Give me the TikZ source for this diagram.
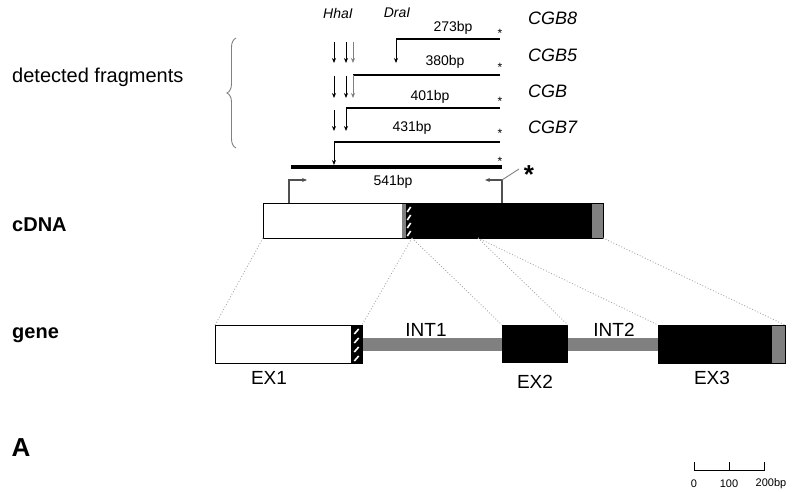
\documentclass[tikz,border=0pt]{standalone}
\usepackage{fontspec}
\setmainfont{Liberation Sans}
\usetikzlibrary{arrows.meta,decorations.pathreplacing}
\definecolor{dgray}{HTML}{808080}
\definecolor{lgray}{HTML}{A8A8A8}
\definecolor{pgray}{HTML}{505050}
\begin{document}
\begin{tikzpicture}[x=1pt,y=-1pt,
  fs/.style={font=\fontsize{#1}{#1}\selectfont, inner sep=0pt},
  itl/.style={font=\fontsize{#1}{#1}\selectfont\itshape, inner sep=0pt},
  bld/.style={font=\fontsize{#1}{#1}\selectfont\bfseries, inner sep=0pt},
  darr/.style={-{Stealth[length=5pt,width=4pt]}, line width=0.8pt},
  frag/.style={line width=2.8pt},
  parr/.style={pgray, line width=1.1pt, -{Stealth[length=5pt,width=4pt]}},
  guide/.style={lgray, dotted, line width=0.9pt},
  hatch/.style={white, line width=1.6pt}
]
\useasboundingbox (0,0) rectangle (793,492);

% ---------- fragments ----------
\node[itl=14] (hha) at (338,13) {HhaI};
\node[itl=14] (dra) at (397,13) {DraI};

\node[itl=18, anchor=west] (cgb8) at (528,18) {CGB8};
\node[itl=18, anchor=west] (cgb5) at (528,55) {CGB5};
\node[itl=18, anchor=west] (cgb) at (528,91) {CGB};
\node[itl=18, anchor=west] (cgb7) at (528,127) {CGB7};

% row 1
\draw[darr] (334,42) -- (334,63);
\draw[darr] (346,42) -- (346,63);
\draw[darr, dgray] (353,42) -- (353,63);
\draw[line width=1.6pt] (500,39) -- (396,39);
\draw[darr] (396,39) -- (396,63);
\node[fs=14] (l273) at (453,28) {273bp};
% row 2
\draw[darr] (334,76) -- (334,98);
\draw[darr] (346,76) -- (346,98);
\draw[frag] (500,75) -- (353,75);
\draw[darr, dgray] (353,75) -- (353,98);
\node[fs=14] (l380) at (445,62) {380bp};
% row 3
\draw[darr] (334,110) -- (334,131);
\draw[frag] (500,108) -- (346,108);
\draw[darr] (346,108) -- (346,131);
\node[fs=14] (l401) at (430,97) {401bp};
% row 4
\draw[frag] (500,142) -- (334,142);
\draw[darr] (334,142) -- (334,165);
\node[fs=14] (l431) at (412,128) {431bp};
% row 5
\draw[line width=4pt] (291,167) -- (502,167);
\node[fs=14] (l541) at (393,182) {541bp};

% asterisks
\foreach \y in {33,67,101,133,161} \node[fs=12] at (500,\y) {*};

% primers
\coordinate (pl) at (289,203);
\coordinate (pr) at (502,203);
\draw[parr] (pl) -- (289,180) -- (307,180);
\draw[parr] (pr) -- (502,180) -- (485,180);
\draw[dgray, line width=0.9pt] (502,180) -- (519,169);
\node[bld=26] (bigast) at (529,175) {*};

% brace and label
\node[fs=20, anchor=west] (det) at (12,77) {detected fragments};
\draw[dgray, line width=0.9pt, decorate, decoration={brace, amplitude=9pt}] (236,148) -- (236,38);

% ---------- cDNA ----------
\node[bld=20, anchor=west] (cdna) at (12,225) {cDNA};
\node[draw, line width=0.8pt, fill=white, minimum width=139pt, minimum height=35pt, inner sep=0, anchor=north west] (c1) at (263,203) {};
\fill[dgray] (402,203) rectangle (406,238);
\fill[black] (406,203) rectangle (412,238);
\foreach \yy in {207,215,223,231} \draw[hatch] (407.3,\yy+5) -- (410.7,\yy);
\fill[black] (412,203) rectangle (592,238);
\fill[dgray] (592,203) rectangle (603,238);
\draw[line width=0.8pt] (263,203) rectangle (603,238);

% ---------- gene ----------
\node[bld=20, anchor=west] (gene) at (12,335) {gene};
\fill[dgray] (362,338) rectangle (502,351);
\fill[dgray] (568,338) rectangle (658,351);
\node[draw, line width=0.8pt, fill=white, minimum width=136pt, minimum height=38pt, inner sep=0, anchor=north west] (e1) at (215,325) {};
\fill[black] (351,325) rectangle (362,363);
\foreach \yy in {329,338,347,356} \draw[hatch] (354.3,\yy+5) -- (358.7,\yy);
\draw[line width=0.8pt] (215,325) rectangle (362,363);
\node[fill=black, minimum width=66pt, minimum height=38pt, inner sep=0, anchor=north west] (e2) at (502,325) {};
\fill[black] (658,325) rectangle (772,363);
\fill[dgray] (772,325) rectangle (785,363);
\draw[line width=0.8pt] (658,325) rectangle (785,363);

\node[fs=19] (int1) at (426,330) {INT1};
\node[fs=19] (int2) at (614,330) {INT2};
\node[fs=19] (ex1) at (269,378) {EX1};
\node[fs=19] (ex2) at (535,382) {EX2};
\node[fs=19] (ex3) at (712,378) {EX3};

% guide lines
\draw[guide] (263,238) -- (215,325);
\draw[guide] (412,238) -- (362,325);
\draw[guide] (412,238) -- (502,325);
\draw[guide] (478,238) -- (568,325);
\draw[guide] (478,238) -- (658,325);
\draw[guide] (603,238) -- (785,325);

% ---------- panel letter & scale ----------
\node[bld=26] (A) at (21,448) {A};
\draw[line width=0.8pt] (694,462) -- (694,470) -- (764,470) -- (764,462);
\draw[line width=0.8pt] (729,462) -- (729,470);
\node[fs=11] (s0) at (694,484) {0};
\node[fs=11] (s1) at (729,484) {100};
\node[fs=11] (s2) at (771,484) {200bp};
\end{tikzpicture}
\end{document}
